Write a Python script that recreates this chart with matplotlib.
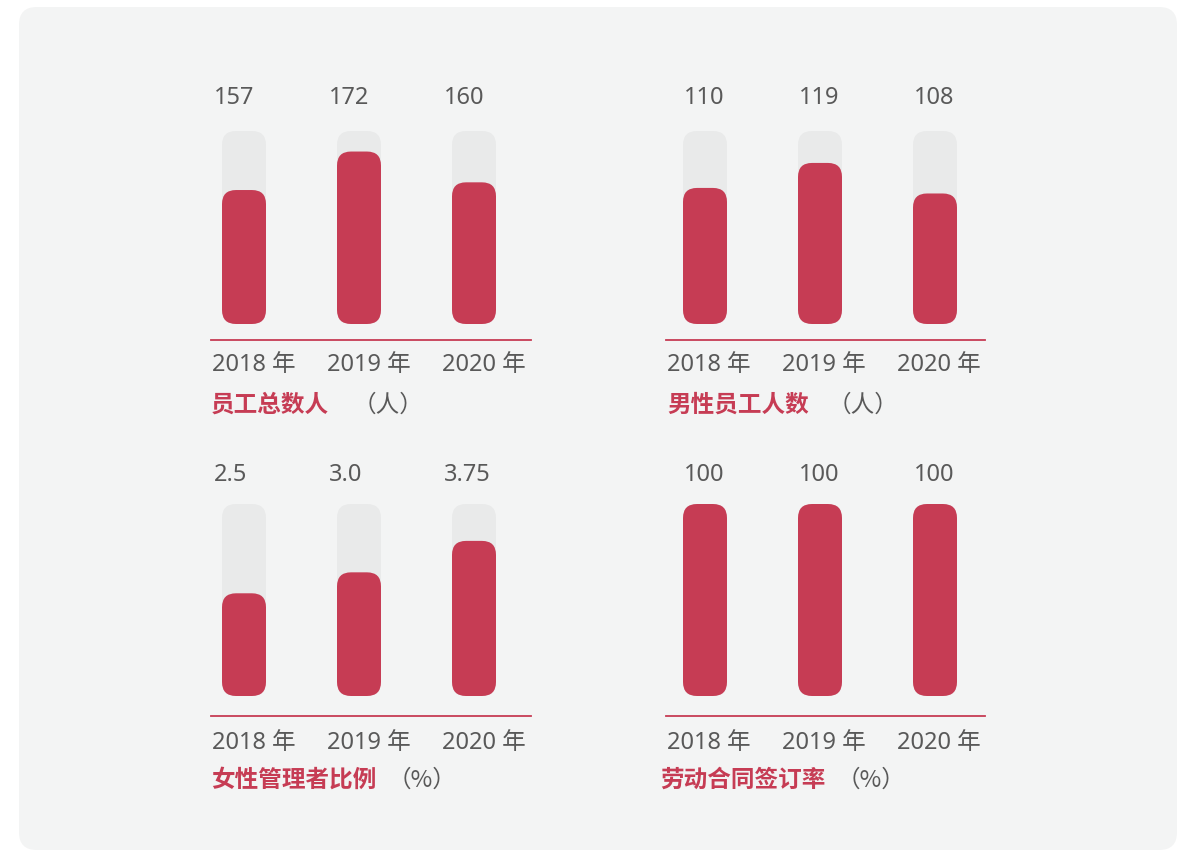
import matplotlib.pyplot as plt
import matplotlib.transforms as mtransforms
from matplotlib.patches import FancyBboxPatch
import numpy as np

plt.rcParams['font.family'] = ['Noto Sans', 'Noto Sans CJK SC', 'DejaVu Sans']

# 数据
years = ['2018 年', '2019 年', '2020 年']
total_staff = [157, 172, 160]
male_staff = [110, 119, 108]
female_mgr = [2.5, 3.0, 3.75]
contract_rate = [100, 100, 100]

value_labels = [['157', '172', '160'],
                ['110', '119', '108'],
                ['2.5', '3.0', '3.75'],
                ['100', '100', '100']]
titles = ['员工总数人', '男性员工人数', '女性管理者比例', '劳动合同签订率']
units = ['（人）', '（人）', '（%）', '（%）']
# 每个小图的纵轴范围（原图并非从零开始）
ylims = [(104.8, 180.0), (61.0, 130.5), (0.05, 4.63), (0.0, 100.0)]

RED = '#c63c54'
TRACK = '#e9eaea'
GRAY = '#595959'
PANEL = '#f3f4f4'
CJK = ['Noto Sans CJK SC', 'DejaVu Sans']

W, H = 1182, 852
fig = plt.figure(figsize=(W / 100, H / 100), dpi=100)
fig.patch.set_facecolor('white')

# 浅灰色圆角背景
bg = FancyBboxPatch((19 / W, 1 - 850 / H), (1177 - 19) / W, (850 - 7) / H,
                    boxstyle='round,pad=0,rounding_size=0.015',
                    mutation_aspect=W / H, transform=fig.transFigure,
                    facecolor=PANEL, edgecolor='none', zorder=-5)
fig.patches.append(bg)

# 各小图位置（像素）
panels = [
    dict(left=211, right=531, top=131, bottom=324, out=16, x0=33, ylab=365, ytit=405,
         yval=98, vdx=-8, tleft=211, gap=23),
    dict(left=666, right=985, top=131, bottom=324, out=16, x0=39, ylab=365, ytit=405,
         yval=98, vdx=1, tleft=667, gap=19),
    dict(left=211, right=531, top=504, bottom=696, out=20, x0=33, ylab=743, ytit=780,
         yval=475, vdx=-8, tleft=211, gap=11),
    dict(left=666, right=985, top=504, bottom=696, out=20, x0=39, ylab=743, ytit=780,
         yval=475, vdx=1, tleft=660, gap=11),
]
series = [total_staff, male_staff, female_mgr, contract_rate]

x = np.arange(len(years))
step = 115
width = 44 / step
radius_px = 14


def round_bars(ax, bars, color, ppx, ppy, zorder):
    # 把普通矩形柱换成圆角柱
    r = radius_px * ppx
    for rect in bars:
        bx, by = rect.get_xy()
        p = FancyBboxPatch((bx, by), rect.get_width(), rect.get_height(),
                           boxstyle=f'round,pad=0,rounding_size={r}',
                           mutation_aspect=ppy / ppx,
                           facecolor=color, edgecolor='none', zorder=zorder)
        ax.add_patch(p)
        rect.remove()


for i, p in enumerate(panels):
    ax = fig.add_axes([p['left'] / W, 1 - p['bottom'] / H,
                       (p['right'] - p['left']) / W, (p['bottom'] - p['top']) / H])
    ax.set_facecolor('none')
    ymin, ymax = ylims[i]
    ax.set_xlim(-p['x0'] / step, (p['right'] - p['left'] - p['x0']) / step)
    ax.set_ylim(ymin, ymax)

    ppx = 1 / step
    ppy = (ymax - ymin) / (p['bottom'] - p['top'])

    vals = np.array(series[i])
    track = ax.bar(x, [ymax - ymin] * 3, width, bottom=ymin, color=TRACK)
    bars = ax.bar(x, vals - ymin, width, bottom=ymin, color=RED)
    round_bars(ax, track, TRACK, ppx, ppy, 1)
    round_bars(ax, bars, RED, ppx, ppy, 2)

    for s in ['top', 'left', 'right']:
        ax.spines[s].set_visible(False)
    ax.spines['bottom'].set_position(('outward', p['out'] * 0.72))
    ax.spines['bottom'].set_color(RED)
    ax.spines['bottom'].set_linewidth(1.3)
    ax.set_xticks([])
    ax.set_yticks([])

    tr = mtransforms.blended_transform_factory(ax.transData, fig.transFigure)
    for j in range(len(x)):
        ax.text(x[j] - width / 2 + p['vdx'] * ppx, 1 - p['yval'] / H, value_labels[i][j],
                transform=tr, ha='left', va='center', fontsize=17, color=GRAY)
        ax.text(x[j] - p['x0'] / step + 1 * ppx, 1 - p['ylab'] / H, years[j],
                transform=tr, ha='left', va='center', fontsize=17, color=GRAY)

    t = fig.text(p['tleft'] / W, 1 - p['ytit'] / H, titles[i], ha='left', va='center',
                 fontsize=17, fontweight='bold', color=RED, family=CJK)
    ax.annotate(units[i], xy=(1, 0.5), xycoords=t, xytext=(p['gap'], 0),
                textcoords='offset pixels', ha='left', va='center',
                fontsize=17, color=GRAY, family=CJK, annotation_clip=False)

plt.savefig('out.png', dpi=100, facecolor=fig.get_facecolor())
